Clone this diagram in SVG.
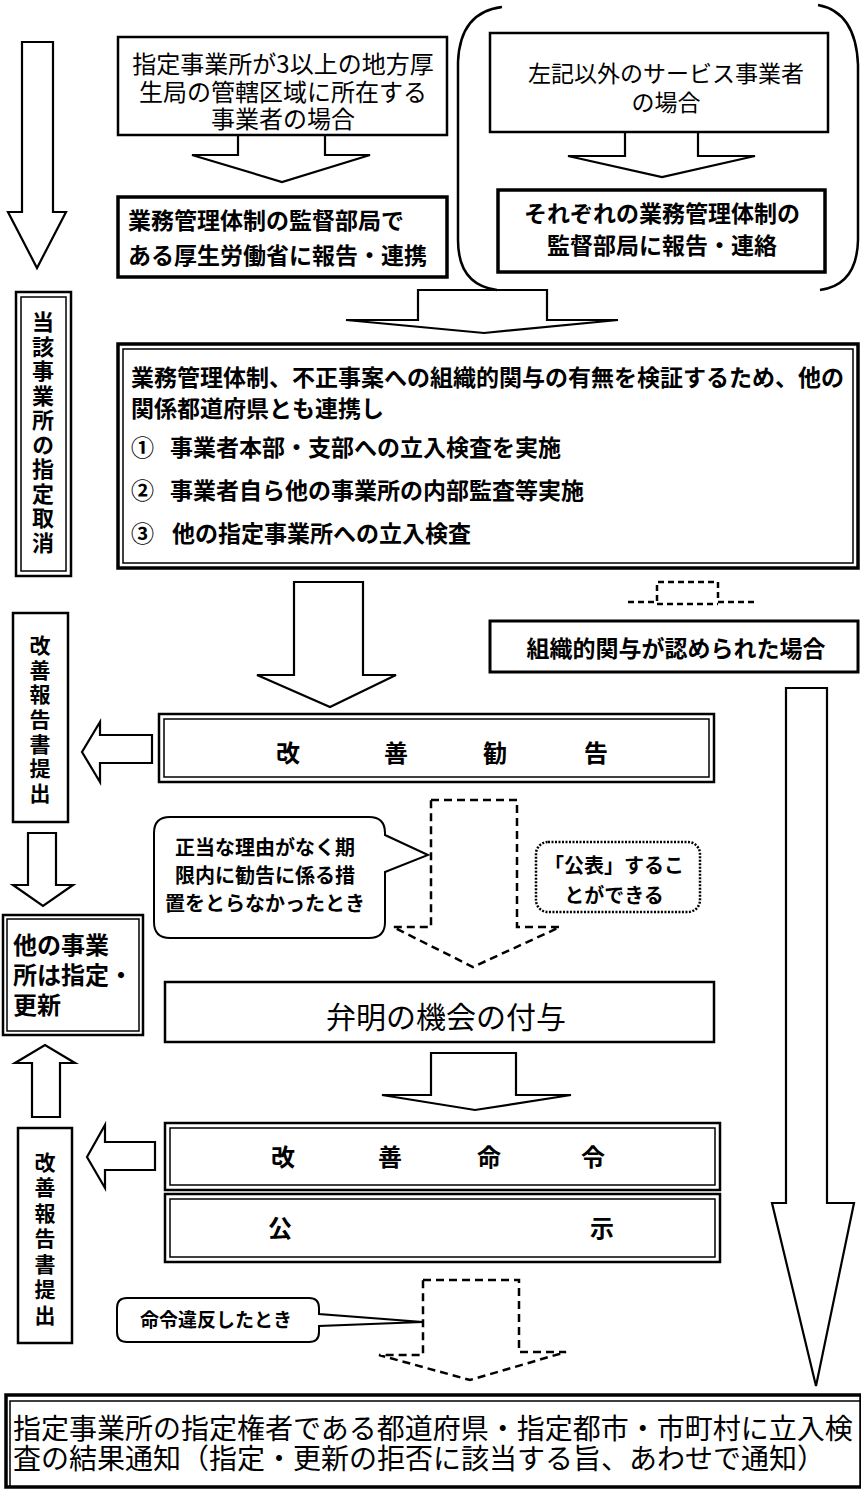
<svg xmlns="http://www.w3.org/2000/svg" width="861" height="1490" viewBox="0 0 861 1490">
<style>
.bx{fill:#fff;stroke:#000;stroke-width:2.5}
.bk{fill:#fff;stroke:#000;stroke-width:3.5}
.in{fill:none;stroke:#000;stroke-width:1.5}
.ar{fill:#fff;stroke:#000;stroke-width:2.2;stroke-linejoin:miter}
.da{fill:none;stroke:#000;stroke-width:2.5;stroke-dasharray:8 5}
.ln{fill:none;stroke:#000;stroke-width:2.5}
.t{font-family:"Noto Sans CJK JP","Noto Sans CJK SC",sans-serif;fill:#000}
.b{font-weight:700}
.c{text-anchor:middle}
.v{writing-mode:vertical-rl;text-orientation:upright}
</style>
<rect width="861" height="1490" fill="#fff"/>
<g id="connectors">
<path class="ar" d="M22,42 H53 V212 H66 L37,268 L8,212 H22 Z"/>
<path class="ar" d="M238,135 V155 H192 L282,182 L370,155 H325 V135"/>
<path class="ar" d="M625,132 V156 H568 L662,177 L755,156 H698 V132"/>
<path class="ar" d="M418,290 H547 V320 H618 L484,333 L346,320 H418 Z"/>
<path class="da" style="stroke-dasharray:6 4" d="M628,602 H657 V582 H718 V602 H758 M657,604 H718"/>
<path class="ar" d="M294,582 H363 V675 H396 L330,707 L257,675 H294 Z"/>
<path class="ar" d="M152,735 H100 V722 L82,752 L100,782 V763 H152 Z"/>
<path class="da" d="M431,800 H517 V927 H560 L473,967 L393,927 H431 Z"/>
<path class="ar" d="M28,833 H56 V885 H73 L43,906 L13,885 H28 Z"/>
<path class="ar" d="M32,1117 V1063 H15 L45,1045 L75,1063 H60 V1117 Z"/>
<path class="ar" d="M431,1053 H516 V1095 H571 L475,1110 L382,1095 H431 Z"/>
<path class="ar" d="M155,1142 H105 V1125 L87,1157 L105,1188 V1170 H155 Z"/>
<path class="ar" d="M786,688 H827 V1203 H854 L816,1386 L772,1203 H786 Z"/>
<path class="da" d="M423,1280 H519 V1352 H566 L470,1380 L379,1355 H423 Z"/>
</g>
<g id="bracket">
<path class="ln" d="M502,7 Q460,12 458,62 V240 Q458,285 497,290"/>
<path class="ln" d="M818,5 Q856,12 858,65 V240 Q857,285 820,290"/>
</g>
<g id="box1">
<rect class="bx" x="118" y="37" width="329" height="98"/>
<text class="t c" font-size="24"><tspan x="283" y="73">指定事業所が3以上の地方厚</tspan><tspan x="283" y="101">生局の管轄区域に所在する</tspan><tspan x="283" y="128">事業者の場合</tspan></text>
</g>
<g id="box2">
<rect class="bk" x="118" y="197" width="329" height="80"/>
<text class="t b" font-size="23"><tspan x="128" y="229">業務管理体制の監督部局で</tspan><tspan x="128" y="264">ある厚生労働省に報告・連携</tspan></text>
</g>
<g id="box3">
<rect class="bx" x="490" y="33" width="338" height="99"/>
<text class="t c" font-size="23"><tspan x="666" y="82">左記以外のサービス事業者</tspan><tspan x="666" y="111">の場合</tspan></text>
</g>
<g id="box4">
<rect class="bk" x="498" y="190" width="327" height="82"/>
<text class="t b c" font-size="23"><tspan x="662" y="222">それぞれの業務管理体制の</tspan><tspan x="662" y="254">監督部局に報告・連絡</tspan></text>
</g>
<g id="main">
<rect class="bk" x="118" y="344" width="740" height="224"/>
<rect class="in" x="123" y="349" width="730" height="214"/>
<text class="t b" font-size="23" x="131" y="386">業務管理体制、不正事案への組織的関与の有無を検証するため、他の</text>
<text class="t b" font-size="23" x="131" y="417">関係都道府県とも連携し</text>
<text class="t b" font-size="23" x="131" y="456">①<tspan x="170">事業者本部・支部への立入検査を実施</tspan></text>
<text class="t b" font-size="23" x="131" y="499">②<tspan x="170">事業者自ら他の事業所の内部監査等実施</tspan></text>
<text class="t b" font-size="23" x="131" y="542">③<tspan x="172">他の指定事業所への立入検査</tspan></text>
</g>
<g id="torikeshi">
<rect class="bx" x="16" y="292" width="55" height="284"/>
<rect class="in" x="21" y="297" width="45" height="274"/>
<text class="t b v" font-size="22" x="43" y="311" letter-spacing="2.5">当該事業所の指定取消</text>
</g>
<g id="soshiki">
<rect class="bk" x="490" y="621" width="368" height="51" style="stroke-width:3"/>
<text class="t b c" font-size="23" x="676" y="657">組織的関与が認められた場合</text>
</g>
<g id="houkoku1">
<rect class="bx" x="13" y="613" width="55" height="209"/>
<text class="t b v" font-size="21" x="40" y="634.5" letter-spacing="3.7">改善報告書提出</text>
</g>
<g id="kankoku">
<rect class="bx" x="159" y="714" width="555" height="68"/>
<rect class="in" x="164" y="719" width="545" height="58"/>
<text class="t b c" font-size="24" y="762"><tspan x="288">改</tspan><tspan x="396">善</tspan><tspan x="495">勧</tspan><tspan x="596">告</tspan></text>
</g>
<g id="callout1">
<path class="ln" style="stroke-width:2" d="M170,817 H369 Q385,817 385,833 V835 L428,855 L385,872 V922 Q385,938 369,938 H170 Q154,938 154,922 V833 Q154,817 170,817 Z" fill="#fff"/>
<text class="t b c" font-size="20"><tspan x="265" y="855">正当な理由がなく期</tspan><tspan x="265" y="883">限内に勧告に係る措</tspan><tspan x="265" y="911">置をとらなかったとき</tspan></text>
</g>
<g id="kouhyou">
<rect x="536" y="842" width="164" height="70" rx="12" fill="#fff" stroke="#000" stroke-width="2.5" stroke-dasharray="2 1.5"/>
<text class="t b c" font-size="20"><tspan x="614" y="873">「公表」するこ</tspan><tspan x="614" y="903">とができる</tspan></text>
</g>
<g id="tashou">
<rect class="bx" x="3" y="915" width="140" height="120"/>
<rect class="in" x="7" y="919" width="132" height="112"/>
<text class="t b" font-size="24"><tspan x="13" y="954">他の事業</tspan><tspan x="13" y="984">所は指定・</tspan><tspan x="13" y="1014">更新</tspan></text>
</g>
<g id="benmei">
<rect class="bx" x="165" y="982" width="549" height="60"/>
<text class="t c" font-size="30" x="446" y="1028">弁明の機会の付与</text>
</g>
<g id="meirei">
<rect class="bx" x="165" y="1123" width="555" height="67"/>
<rect class="in" x="170" y="1128" width="545" height="57"/>
<text class="t b c" font-size="24" y="1166"><tspan x="283">改</tspan><tspan x="390">善</tspan><tspan x="489">命</tspan><tspan x="593">令</tspan></text>
</g>
<g id="koji">
<rect class="bx" x="165" y="1194" width="555" height="68"/>
<rect class="in" x="170" y="1199" width="545" height="58"/>
<text class="t b c" font-size="24" y="1237"><tspan x="280">公</tspan><tspan x="602">示</tspan></text>
</g>
<g id="houkoku2">
<rect class="bx" x="18" y="1128" width="54" height="215"/>
<text class="t b v" font-size="21" x="45" y="1151.5" letter-spacing="4.5">改善報告書提出</text>
</g>
<g id="callout2">
<path class="ln" style="stroke-width:2" d="M127,1298 H309 Q319,1298 319,1308 V1314 L423,1322 L319,1326 V1332 Q319,1342 309,1342 H127 Q117,1342 117,1332 V1308 Q117,1298 127,1298 Z" fill="#fff"/>
<text class="t b c" font-size="19" x="216" y="1327">命令違反したとき</text>
</g>
<g id="final">
<rect x="6" y="1395" width="855" height="92" fill="#fff" stroke="#000" stroke-width="3.5"/>
<path class="in" d="M10,1487 V1401 H861"/>
<text class="t" font-size="28"><tspan x="13" y="1439">指定事業所の指定権者である都道府県・指定都市・市町村に立入検</tspan><tspan x="13" y="1469">査の結果通知（指定・更新の拒否に該当する旨、あわせで通知）</tspan></text>
</g>
</svg>
